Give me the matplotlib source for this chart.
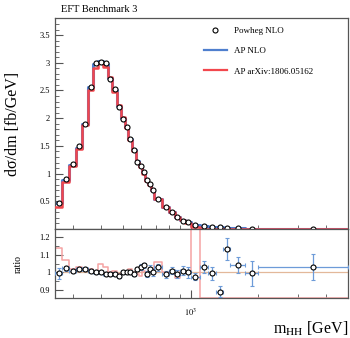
import numpy as np
import matplotlib
matplotlib.use("Agg")
import matplotlib.pyplot as plt
from matplotlib.lines import Line2D
from matplotlib.ticker import LogLocator, NullFormatter, MultipleLocator, FixedLocator, FixedFormatter

plt.rcParams['font.family'] = ['Liberation Serif', 'DejaVu Serif']
plt.rcParams['mathtext.fontset'] = 'stix'

# bin edges in m_HH [GeV]
edges = np.array([250, 270, 290, 310, 330, 350, 370, 390, 410, 430, 450, 470, 490,
                  510, 530, 550, 570, 590, 610, 630, 650, 670, 690,
                  750, 800, 850, 900, 950, 1000, 1100, 1200, 1300, 1400, 1500,
                  1750, 2000, 5000])

# dsigma/dm [fb/GeV]
ap_nlo = [0.47, 0.89, 1.16, 1.47, 1.90, 2.57, 2.97, 3.03, 2.98, 2.73, 2.50, 2.22, 2.00,
          1.84, 1.62, 1.42, 1.22, 1.14, 1.02, 0.88, 0.81, 0.70,
          0.55, 0.40, 0.31, 0.22, 0.16, 0.12, 0.08, 0.055, 0.04, 0.03, 0.02,
          0.012, 0.008, 0.002]
ap_arxiv = [0.40, 0.85, 1.14, 1.44, 1.88, 2.51, 2.90, 2.99, 2.93, 2.74, 2.48, 2.24, 2.02,
            1.82, 1.60, 1.40, 1.21, 1.12, 1.00, 0.86, 0.80, 0.70,
            0.55, 0.39, 0.30, 0.22, 0.16, 0.11, 0.04, 0.0, 0.0, 0.0, 0.0,
            0.0, 0.0, 0.0]
powheg = [0.47, 0.90, 1.18, 1.50, 1.90, 2.56, 3.00, 3.02, 3.00, 2.70, 2.52, 2.21, 1.99,
          1.85, 1.62, 1.43, 1.21, 1.14, 1.02, 0.88, 0.81, 0.70,
          0.55, 0.40, 0.31, 0.22, 0.15, 0.12, 0.08, 0.055, 0.04, 0.03, 0.02,
          0.012, 0.008, 0.002]

# ratio panel
ratio_pts = [0.994, 1.023, 1.007, 1.017, 1.02, 1.01, 1.00, 1.00, 0.99, 0.99, 0.99, 0.98, 1.00,
             1.00, 1.00, 0.99, 1.02, 1.03, 1.04, 0.99, 1.02, 1.00,
             1.03, 0.99, 1.01, 0.99, 1.01, 1.00, 0.975, 1.03, 0.994, 0.89, 1.133,
             1.04, 0.994, 1.03]
ratio_err = [0.03, 0.015, 0.01, 0.01, 0.01, 0.01, 0.01, 0.01, 0.01, 0.01, 0.01, 0.01, 0.01,
             0.01, 0.01, 0.01, 0.01, 0.015, 0.015, 0.015, 0.02, 0.02,
             0.02, 0.02, 0.02, 0.025, 0.025, 0.03, 0.02, 0.035, 0.035, 0.03, 0.06,
             0.045, 0.07, 0.075]
ratio_line = [1.14, 1.07, 1.02, 1.03, 1.02, 1.02, 1.01, 1.05, 1.03, 1.00, 1.01, 0.99, 0.99,
              0.99, 1.02, 1.00, 0.99, 0.98, 1.01, 1.00, 1.01, 1.02,
              1.06, 1.00, 1.00, 0.97, 1.01, 1.00, 2.0, 0.0, 0.0, 0.0, 0.0,
              0.0, 0.0, 0.0]

blue = '#4f7fce'
red = '#f2474d'
pink = '#f5a3a3'
frame = '#555555'

fig = plt.figure(figsize=(3.5, 3.38), dpi=100)
ax = fig.add_axes([0.157, 0.3225, 0.837, 0.6245])
rx = fig.add_axes([0.157, 0.118, 0.837, 0.2045], sharex=ax)

centers = 0.5 * (edges[:-1] + edges[1:])


def step_vals(v):
    return np.append(v, v[-1])


ax.step(edges, step_vals(ap_nlo), where='post', color=blue, lw=2.2, zorder=2)
ax.step(edges, step_vals(ap_arxiv), where='post', color=red, lw=1.8, zorder=3)
ax.plot(centers, powheg, 'o', ms=3.6, mfc='white', mec='black', mew=0.8, zorder=4)

ax.set_xscale('log')
ax.set_xlim(250, 5000)
ax.set_ylim(0, 3.81)
ax.yaxis.set_major_locator(FixedLocator([0.5, 1, 1.5, 2, 2.5, 3, 3.5]))
ax.yaxis.set_major_formatter(FixedFormatter(['0.5', '1', '1.5', '2', '2.5', '3', '3.5']))
ax.yaxis.set_minor_locator(MultipleLocator(0.1))
ax.set_ylabel('d\u03c3/dm [fb/GeV]', fontsize=11.5)
ax.yaxis.set_label_coords(-0.115, 0.5)
ax.tick_params(labelbottom=False)

# ratio panel
ylo, yhi = 0.853, 1.247
rx.step(edges, step_vals(np.clip(ratio_line, ylo + 0.002, yhi - 0.002)), where='post',
        color=pink, lw=1.1, zorder=2)
rx.axhline(1.0, color='#e3b89a', lw=0.9, zorder=1)
xerr = [centers - edges[:-1], edges[1:] - centers]
rx.errorbar(centers, ratio_pts, yerr=ratio_err, xerr=xerr, fmt='o', ms=3.6,
            mfc='white', mec='black', mew=0.8, ecolor='#6d9bd8', elinewidth=0.9,
            capsize=1.5, capthick=0.9, zorder=4)
rx.set_ylim(ylo, yhi)
rx.yaxis.set_major_locator(FixedLocator([0.9, 1.0, 1.1, 1.2]))
rx.yaxis.set_major_formatter(FixedFormatter(['0.9', '1', '1.1', '1.2']))
rx.yaxis.set_minor_locator(MultipleLocator(0.05))
rx.set_ylabel('ratio', fontsize=7)
rx.yaxis.set_label_coords(-0.11, 0.5)

rx.xaxis.set_major_locator(FixedLocator([1000]))
rx.xaxis.set_major_formatter(FixedFormatter(['$10^3$']))
rx.xaxis.set_minor_locator(LogLocator(base=10, subs=np.arange(2, 10)))
rx.xaxis.set_minor_formatter(NullFormatter())
rx.set_xlabel('m$_{\\mathrm{HH}}$ [GeV]', fontsize=11.5, ha='right', va='center')
rx.xaxis.set_label_coords(1.0, -0.44)

for a in (ax, rx):
    for s in a.spines.values():
        s.set_color(frame)
        s.set_linewidth(0.9)
    a.tick_params(which='both', direction='in', colors=frame, labelcolor='black',
                  labelsize=6, top=False, right=False)
    a.tick_params(which='major', length=6, width=0.8)
    a.tick_params(which='minor', length=3, width=0.6)
rx.tick_params(axis='x', which='major', pad=6)

ax.set_title('EFT Benchmark 3', fontsize=7.5, loc='left', x=0.02, pad=4)

# legend
handles = [Line2D([], [], ls='none', marker='o', ms=3.6, mfc='white', mec='black', mew=0.8),
           Line2D([], [], color=blue, lw=1.6),
           Line2D([], [], color=red, lw=1.6)]
ax.legend(handles, ['Powheg NLO', 'AP NLO', 'AP arXiv:1806.05162'], loc='upper left',
          bbox_to_anchor=(0.48, 0.995), frameon=False, fontsize=6.5, handlelength=2.6,
          labelspacing=1.3, handletextpad=0.8)

fig.savefig('out.png', dpi=100)
